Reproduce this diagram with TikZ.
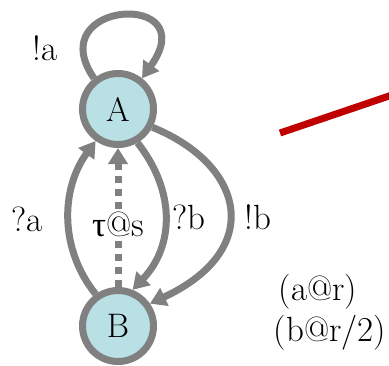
\documentclass[tikz,border=0pt]{standalone}
\usepackage{fontspec}
\usetikzlibrary{arrows.meta}
\newfontfamily\grkfont{Liberation Serif}
\definecolor{stategray}{HTML}{808080}
\definecolor{statefill}{HTML}{B9E0E4}
\definecolor{redline}{HTML}{C00000}
\begin{document}
\begin{tikzpicture}[x=1pt,y=-1pt,
  state/.style={circle,draw=stategray,fill=statefill,line width=7pt,minimum size=71pt,inner sep=0pt,font=\fontsize{34}{40}\selectfont},
  edge/.style={draw=stategray,line width=7pt,-{Triangle[length=16pt,width=19pt]}},
  lbl/.style={font=\fontsize{35}{42}\selectfont,inner sep=0pt}]
\useasboundingbox (0,0) rectangle (389,365);
\node[state] (A) at (118,109) {A};
\node[state] (B) at (118,326) {B};
\coordinate (r1) at (280,133);
\coordinate (r2) at (392,95);
\draw[redline,line width=7pt] (r1) -- (r2);
\draw[edge] (A.128) .. controls (40,0) and (205,-10) .. (A.52);
\draw[edge] (B.125) .. controls (60,250) and (60,190) .. (A.235);
\draw[edge,dash pattern=on 7pt off 6pt] (B.north) -- (A.south);
\draw[edge] (A.-60) .. controls (175,190) and (175,245) .. (B.68);
\draw[edge] (A.-28) .. controls (245,165) and (265,250) .. (B.35);
\node[lbl] (la) at (45,48) {!a};
\node[lbl] (lqa) at (27,219) {?a};
\node[lbl,fill=white,inner sep=1pt] (lt) at (118,224) {{\grkfont τ}@s};
\node[lbl] (lqb) at (189,217) {?b};
\node[lbl] (lb) at (258,217) {!b};
\node[lbl] (l1) at (318,292) {(a@r)};
\node[lbl] (l2) at (330,333) {(b@r/2)};
\end{tikzpicture}
\end{document}
